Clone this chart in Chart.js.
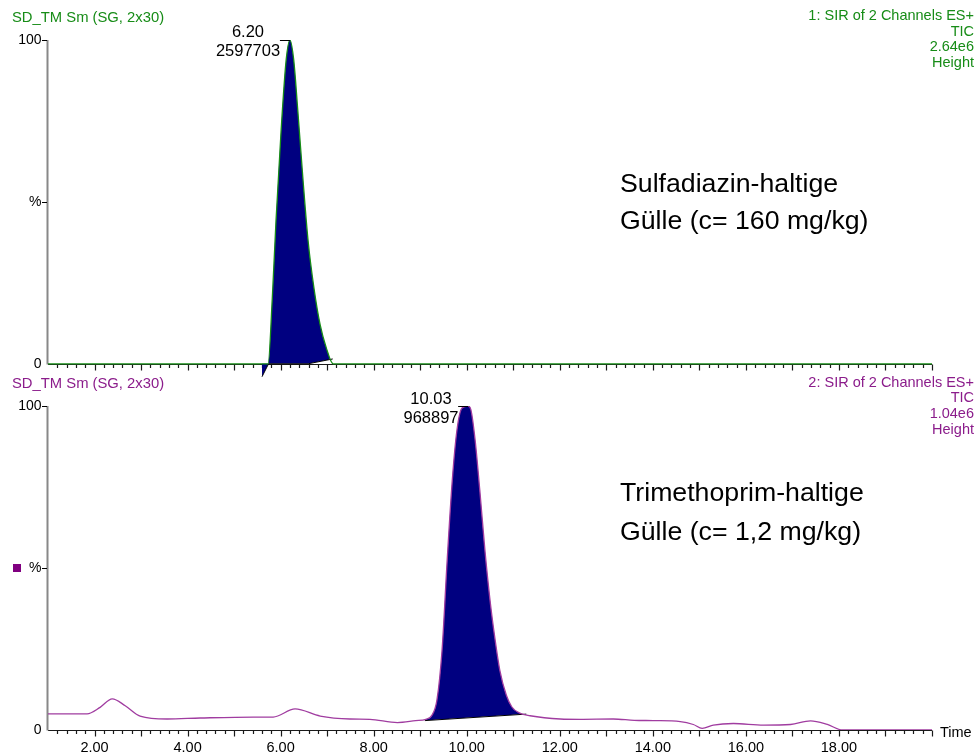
<!DOCTYPE html>
<html><head><meta charset="utf-8">
<title>SIR chromatogram</title>
<script src="https://cdn.jsdelivr.net/npm/chart.js@4.4.1/dist/chart.umd.min.js"></script>
<style>
html,body{margin:0;padding:0;background:#fff}
body{position:relative;width:976px;height:755px;overflow:hidden;font-family:"Liberation Sans",Arial,Helvetica,sans-serif;color:#000}
canvas{position:absolute;left:0}
#cTop{top:0}
#cBot{top:370px}
.t{position:absolute;white-space:nowrap}
.g{color:#178c17}
.p{color:#8b1c8b}
.hl{left:12px;font-size:14.8px;line-height:16px}
.hr{right:2px;text-align:right;font-size:14.5px;line-height:15.6px}
.ann{left:620px;font-size:26.7px}
.pk{font-size:16.5px;text-align:center;transform:translateX(-50%)}
</style></head>
<body>
<canvas id="cTop" width="976" height="381"></canvas>
<canvas id="cBot" width="976" height="385"></canvas>
<div class="t g hl" style="top:8.5px">SD_TM Sm (SG, 2x30)</div>
<div class="t g hr" style="top:8px">1: SIR of 2 Channels ES+<br>TIC<br>2.64e6<br>Height</div>
<div class="t ann" style="top:164.5px;line-height:37px">Sulfadiazin-haltige<br>Gülle (c= 160 mg/kg)</div>
<div class="t pk" id="pkTop" style="left:248px;top:21.5px;line-height:19px"></div>
<div class="t p hl" style="top:374.5px">SD_TM Sm (SG, 2x30)</div>
<div class="t p hr" style="top:374.8px">2: SIR of 2 Channels ES+<br>TIC<br>1.04e6<br>Height</div>
<div class="t ann" style="top:472.5px;line-height:39px">Trimethoprim-haltige<br>Gülle (c= 1,2 mg/kg)</div>
<div class="t pk" id="pkBot" style="left:431px;top:389px;line-height:18.5px"></div>
<div class="t" style="left:940px;top:724px;font-size:14.5px;line-height:16px">Time</div>
<div style="position:absolute;left:13px;top:564px;width:8px;height:8px;background:#800080"></div>
<script>
// ---- data ----
const xRange = [1, 20];
const xTickValues = [2, 4, 6, 8, 10, 12, 14, 16, 18];
const yTickValues = [0, 50, 100];
const yTickLabels = ['0', '%', '100'];

// channel 1 (Sulfadiazin), time in min, intensity in %
const topTime = [1.0, 5.55, 5.73, 5.82, 5.90, 6.01, 6.12, 6.20, 6.28, 6.37, 6.48, 6.59, 6.72, 6.85, 6.98, 7.13, 20.0];
const topPct  = [0,   0,    0,    20,   44,   72,   94,   100,  94,   78,   57,   38,   23,   12,   5,    0,    0];
const topBaseTime = [5.60, 5.74, 6.59, 7.12];
const topBasePct  = [-4,   0,    0,    1.5];
const topPeakTime = 6.20;
const topPeakText = ['6.20', '2597703'];

// channel 2 (Trimethoprim)
const botTime = [1.0, 1.84, 2.12, 2.38, 2.66, 2.98, 3.56, 4.27, 5.41, 5.84, 6.31, 6.85, 7.49, 7.92, 8.51, 8.90, 9.12, 9.25,
                 9.36, 9.47, 9.58, 9.69, 9.79, 9.90, 10.03, 10.09, 10.18, 10.28, 10.39, 10.50, 10.61, 10.71, 10.85, 10.97, 11.14, 11.36,
                 12.01, 12.44, 13.15, 13.60, 14.01, 14.59, 14.87, 15.06, 15.30, 15.73, 16.38, 16.96, 17.39, 17.75, 18.08, 20.0];
const botPct  = [5.0, 5.0, 7.0, 9.6, 7.5, 4.3, 3.4, 3.7, 4.0, 4.0, 6.5, 4.3, 3.4, 3.3, 2.3, 2.9, 3.3, 4.5,
                 9.3, 24.7, 52.5, 77.2, 92.6, 99.4, 100, 98.8, 89.5, 74.1, 55.6, 40.1, 27.8, 18.5, 10.8, 7.1, 5.2, 4.4,
                 3.4, 3.3, 3.4, 3.0, 2.9, 2.6, 1.7, 0.5, 1.5, 2.0, 1.5, 1.7, 2.8, 1.7, 0, 0];
const botBaseTime = [9.10, 11.28];
const botBasePct  = [2.9, 4.9];
const botPeakTime = 10.03;
const botPeakText = ['10.03', '968897'];

// ---- rendering ----
const FONT = '"Liberation Sans", Arial, Helvetica, sans-serif';
Chart.defaults.font.family = FONT;
document.getElementById('pkTop').innerHTML = topPeakText.join('<br>');
document.getElementById('pkBot').innerHTML = botPeakText.join('<br>');

const pts = (t, v) => t.map((x, i) => ({x: x, y: v[i]}));

function axesPlugin(peakTime) {
  return {
    id: 'axesDraw',
    beforeDatasetsDraw(chart) {
      const {ctx, chartArea: a, scales: {x, y}} = chart;
      const y0 = Math.round(y.getPixelForValue(0)) + 0.5;
      const y100 = Math.round(y.getPixelForValue(100)) + 0.5;
      const y50 = Math.round(y.getPixelForValue(50)) + 0.5;
      ctx.save();
      ctx.strokeStyle = '#1a1a1a';
      ctx.lineWidth = 1.2;
      ctx.beginPath();
      ctx.moveTo(a.left, y0); ctx.lineTo(a.right, y0);
      const n = Math.round((x.max - x.min) / 0.2);
      for (let i = 1; i <= n; i++) {
        const v = x.min + i * 0.2;
        const major = Math.abs(v - Math.round(v)) < 1e-6;
        const px = Math.round(x.getPixelForValue(v)) + 0.5;
        ctx.moveTo(px, y0); ctx.lineTo(px, y0 + (major ? 6 : 3.5));
      }
      ctx.stroke();
      ctx.strokeStyle = '#888';
      ctx.lineWidth = 2;
      ctx.beginPath();
      ctx.moveTo(a.left - 0.5, y100 - 0.5); ctx.lineTo(a.left - 0.5, y0);
      ctx.stroke();
      ctx.strokeStyle = '#000';
      ctx.lineWidth = 1;
      ctx.beginPath();
      ctx.moveTo(a.left - 6, y100); ctx.lineTo(a.left - 1, y100);
      ctx.moveTo(a.left - 6, y50); ctx.lineTo(a.left - 1, y50);
      ctx.stroke();
      ctx.restore();
    },
    afterDatasetsDraw(chart) {
      const {ctx, scales: {x, y}} = chart;
      const px = x.getPixelForValue(peakTime);
      const py = Math.round(y.getPixelForValue(100)) + 0.5;
      ctx.save();
      ctx.strokeStyle = '#000';
      ctx.lineWidth = 1;
      ctx.beginPath();
      ctx.moveTo(px - 10, py); ctx.lineTo(px, py);
      ctx.stroke();
      ctx.restore();
    }
  };
}

function makeChart(id, cfg) {
  const showX = cfg.showX;
  return new Chart(document.getElementById(id), {
    type: 'line',
    data: {
      datasets: [
        {data: pts(cfg.t, cfg.v), borderColor: cfg.color, borderWidth: 1.3, fill: false,
         cubicInterpolationMode: 'monotone', pointRadius: 0},
        {data: pts(cfg.bt, cfg.bv), borderColor: '#000', borderWidth: 1, fill: false, pointRadius: 0, tension: 0},
        {data: pts(cfg.t, cfg.v), borderWidth: 0, borderColor: 'rgba(0,0,0,0)', pointRadius: 0,
         cubicInterpolationMode: 'monotone',
         fill: {target: 1, above: '#000080', below: 'rgba(0,0,0,0)'}}
      ]
    },
    options: {
      responsive: false, animation: false, events: [],
      layout: {padding: cfg.padding},
      plugins: {legend: {display: false}, tooltip: {enabled: false}, filler: {propagate: false}},
      elements: {point: {radius: 0}},
      scales: {
        x: {
          type: 'linear', min: xRange[0], max: xRange[1], display: showX,
          afterBuildTicks: s => { s.ticks = xTickValues.map(v => ({value: v})); },
          afterFit: s => { if (showX) s.height = 25; s.paddingLeft = 0; s.paddingRight = 0; },
          ticks: {autoSkip: false, maxRotation: 0, padding: 9, color: '#000',
                  font: {size: 14.5, family: FONT}, callback: v => Number(v).toFixed(2)},
          grid: {display: false, drawTicks: false}, border: {display: false}
        },
        y: {
          min: cfg.ymin, max: 100,
          afterBuildTicks: s => { s.ticks = yTickValues.map(v => ({value: v})); },
          afterFit: s => { s.width = 48; s.paddingTop = 0; s.paddingBottom = 0; },
          ticks: {padding: 6.5, color: '#000', font: {size: 14, family: FONT},
                  callback: (v) => yTickLabels[yTickValues.indexOf(v)]},
          grid: {display: false, drawTicks: false}, border: {display: false}
        }
      }
    },
    plugins: [axesPlugin(cfg.peak)]
  });
}

makeChart('cTop', {t: topTime, v: topPct, bt: topBaseTime, bv: topBasePct, color: '#178c17',
  peak: topPeakTime, ymin: -5, showX: false, padding: {top: 40, right: 44, bottom: 1, left: 0}});
makeChart('cBot', {t: botTime, v: botPct, bt: botBaseTime, bv: botBasePct, color: '#a03ca0',
  peak: botPeakTime, ymin: 0, showX: true, padding: {top: 36, right: 44, bottom: 0, left: 0}});
</script>
</body></html>
